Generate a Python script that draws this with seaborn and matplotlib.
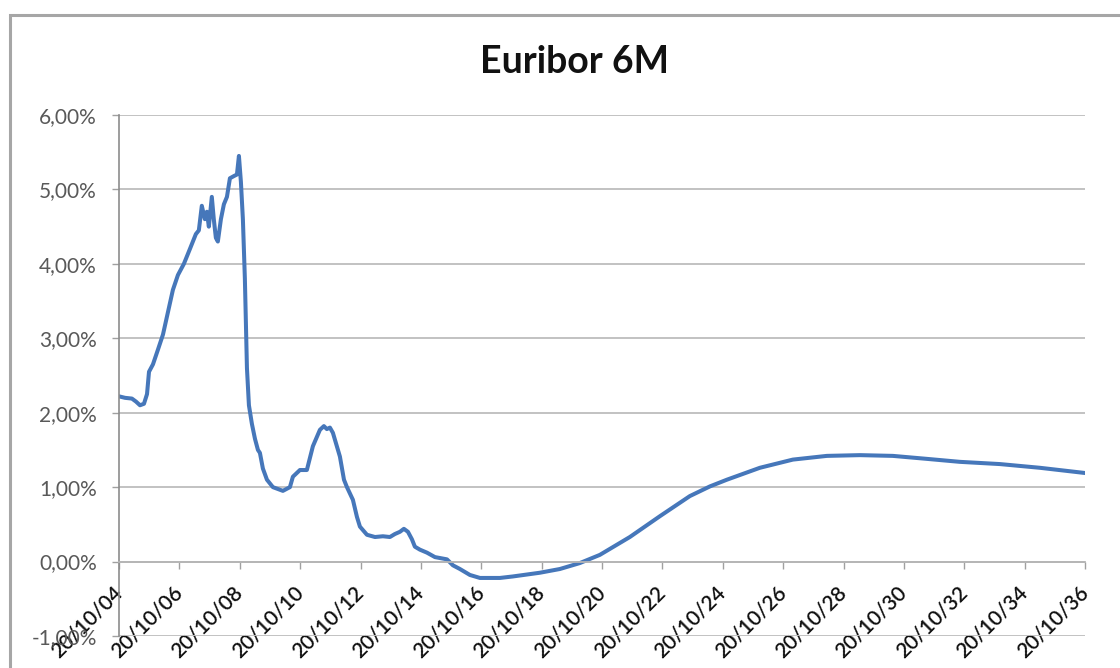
import matplotlib
matplotlib.use("Agg")
import matplotlib.pyplot as plt
import matplotlib.ticker as mticker
from matplotlib.patches import Rectangle
import seaborn as sns
import pandas as pd

# ---- data ----
dates = [
    "2004-10-20", "2005-01-01", "2005-03-25", "2005-05-13", "2005-07-01", "2005-08-18",
    "2005-09-24", "2005-10-18", "2005-12-05", "2006-02-04", "2006-04-05", "2006-06-04",
    "2006-08-03", "2006-10-03", "2006-12-14", "2007-02-25", "2007-05-08", "2007-06-13",
    "2007-07-19", "2007-08-25", "2007-09-18", "2007-10-12", "2007-11-17", "2007-12-11",
    "2008-01-05", "2008-01-29", "2008-03-06", "2008-04-11", "2008-05-18", "2008-06-23",
    "2008-08-11", "2008-09-16", "2008-10-10", "2008-11-03", "2008-11-27", "2008-12-21",
    "2009-01-15", "2009-02-08", "2009-03-16", "2009-04-22", "2009-05-28", "2009-06-21",
    "2009-07-27", "2009-09-14", "2009-11-25", "2010-03-26", "2010-06-19", "2010-07-25",
    "2010-10-18", "2011-01-10", "2011-03-24", "2011-06-17", "2011-08-04", "2011-09-09",
    "2011-10-16", "2011-11-21", "2012-02-14", "2012-04-03", "2012-05-09", "2012-07-20",
    "2012-09-07", "2012-10-13", "2013-01-06", "2013-04-13", "2013-07-18", "2013-10-11",
    "2013-12-10", "2014-02-09", "2014-03-29", "2014-05-17", "2014-07-04", "2014-08-09",
    "2014-10-09", "2015-01-02", "2015-04-09", "2015-09-01", "2015-11-12", "2016-02-05",
    "2016-06-05", "2016-10-04", "2017-06-03", "2017-11-06", "2018-09-29", "2019-05-29",
    "2020-01-26", "2020-09-24", "2021-09-22", "2022-09-21", "2023-09-18", "2024-05-18",
    "2024-12-09", "2026-01-12", "2027-02-15", "2028-04-02", "2029-05-07", "2030-06-09",
    "2031-07-25", "2032-08-27", "2033-12-25", "2035-04-23", "2036-10-20",
]
euribor_6m = [
    2.22, 2.20, 2.19, 2.15, 2.10, 2.12,
    2.25, 2.55, 2.65, 2.85, 3.05, 3.35,
    3.65, 3.85, 4.00, 4.20, 4.40, 4.45,
    4.78, 4.60, 4.70, 4.50, 4.90, 4.60,
    4.35, 4.30, 4.60, 4.80, 4.90, 5.15,
    5.18, 5.20, 5.45, 5.10, 4.60, 3.80,
    2.60, 2.10, 1.85, 1.65, 1.50, 1.46,
    1.25, 1.10, 1.00, 0.95, 1.00, 1.14,
    1.23, 1.23, 1.55, 1.77, 1.82, 1.78,
    1.80, 1.73, 1.41, 1.10, 1.00, 0.83,
    0.60, 0.47, 0.36, 0.33, 0.34, 0.33,
    0.37, 0.40, 0.44, 0.40, 0.30, 0.20,
    0.16, 0.12, 0.06, 0.03, -0.05, -0.10,
    -0.18, -0.22, -0.22, -0.20, -0.15, -0.10,
    -0.02, 0.09, 0.33, 0.61, 0.88, 1.01,
    1.10, 1.26, 1.37, 1.42, 1.43, 1.42,
    1.38, 1.34, 1.31, 1.26, 1.19,
]
tick_dates = ["2004-10-20", "2006-10-20", "2008-10-20", "2010-10-20", "2012-10-20",
              "2014-10-20", "2016-10-20", "2018-10-20", "2020-10-20", "2022-10-20",
              "2024-10-20", "2026-10-20", "2028-10-20", "2030-10-20", "2032-10-20",
              "2034-10-20", "2036-10-20"]
tick_labels = ["20/10/04", "20/10/06", "20/10/08", "20/10/10", "20/10/12", "20/10/14",
               "20/10/16", "20/10/18", "20/10/20", "20/10/22", "20/10/24", "20/10/26",
               "20/10/28", "20/10/30", "20/10/32", "20/10/34", "20/10/36"]
y_ticks = [-1, 0, 1, 2, 3, 4, 5, 6]
title = "Euribor 6M"

# ---- style ----
sns.set_style("white")
plt.rcParams["font.family"] = ["Lato", "DejaVu Sans"]

df = pd.DataFrame({"date": pd.to_datetime(dates), "rate": euribor_6m})
ticks = pd.to_datetime(tick_dates)

fig = plt.figure(figsize=(11.2, 6.68), dpi=100)
ax = fig.add_axes([119 / 1120, 1 - 636 / 668, (1085 - 119) / 1120, (636 - 115) / 668])

sns.lineplot(data=df, x="date", y="rate", ax=ax, color="#4677BA", linewidth=2.9)

ax.set_xlim(ticks[0], ticks[-1])
ax.set_ylim(-1, 6)
ax.set_yticks(y_ticks)
ax.yaxis.set_major_formatter(
    mticker.FuncFormatter(lambda v, p: f"{v:.2f}%".replace(".", ",")))
ax.set_xticks(ticks)
ax.set_xticklabels(tick_labels)

ax.grid(axis="y", color="#bdbdbd", linewidth=1.3)
ax.grid(axis="x", visible=False)
ax.set_axisbelow(True)

for s in ("top", "right"):
    ax.spines[s].set_visible(False)
ax.spines["left"].set_color("#8c8c8c")
ax.spines["left"].set_linewidth(1.2)
ax.spines["bottom"].set_position(("data", 0))
ax.spines["bottom"].set_color("#b5b5b5")
ax.spines["bottom"].set_linewidth(1.3)

ax.tick_params(axis="y", direction="out", length=5, width=1, color="#a0a0a0",
               labelsize=15, labelcolor="#595959", pad=11, left=True)
ax.tick_params(axis="x", direction="out", length=5, width=1, color="#a0a0a0",
               labelsize=15, labelcolor="#111111", pad=15, bottom=True)
for lab in ax.get_xticklabels():
    lab.set_rotation(45)
    lab.set_ha("right")
    lab.set_va("center")
    lab.set_rotation_mode("anchor")
    lab.set_fontweight("semibold")

ax.set_xlabel("")
ax.set_ylabel("")

fig.text(575 / 1120, 1 - 62 / 668, title, ha="center", va="center",
         fontsize=27, fontweight="bold", color="#111111")

fig.patches.append(Rectangle((10 / 1120, -0.2), 1.2, (1 - 15 / 668) + 0.2,
                             transform=fig.transFigure, fill=False,
                             edgecolor="#a6a6a6", linewidth=2.2))

fig.savefig("out.png", dpi=100)
